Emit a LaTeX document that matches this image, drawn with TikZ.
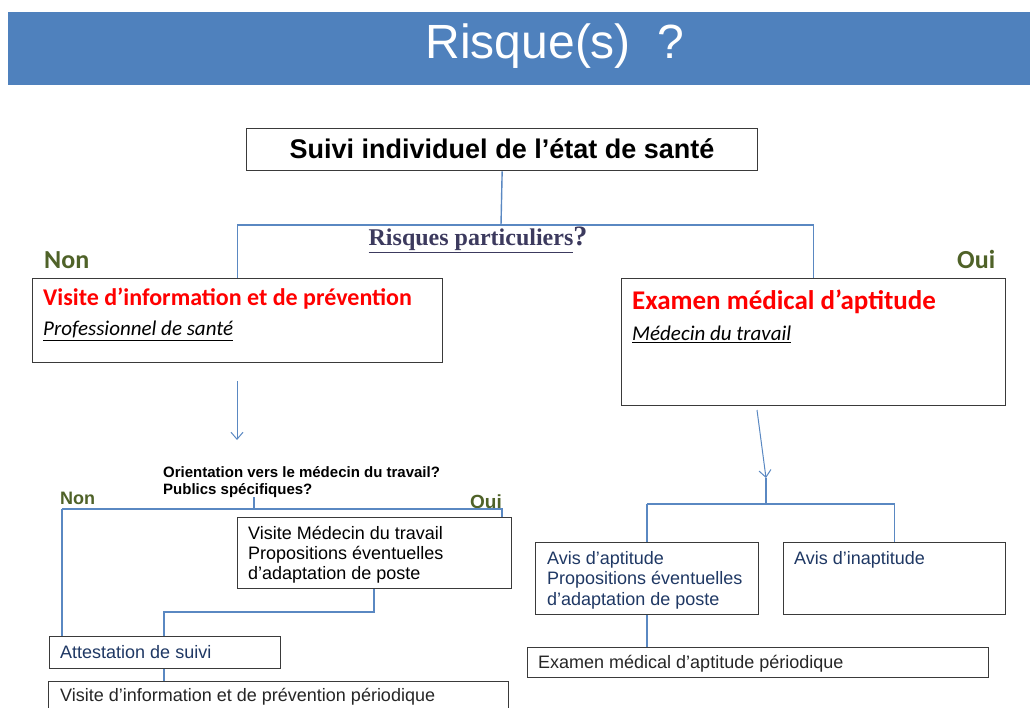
\documentclass[tikz,border=0pt]{standalone}
\usepackage{fontspec}
\setmainfont{Liberation Sans}
\newfontfamily\calib{Carlito}
\newfontfamily\timesf{Liberation Serif}
\usetikzlibrary{arrows.meta}
\definecolor{hdr}{HTML}{4F81BD}
\definecolor{conncol}{HTML}{5A88C2}
\definecolor{olive}{HTML}{4F6228}
\definecolor{navy}{HTML}{1F3864}
\definecolor{rpcol}{HTML}{3C3A5E}
\definecolor{boxcol}{HTML}{3A3A3A}
\newcommand{\fs}[1]{\fontsize{#1}{#1}\selectfont}
\newcommand{\fsl}[2]{\fontsize{#1}{#2}\selectfont}
\tikzset{
  box/.style={draw=boxcol, line width=1.3pt, inner sep=0pt, anchor=north west},
  conn/.style={draw=conncol, line width=1.4pt},
  txt/.style={inner sep=0pt, anchor=base west},
  lines/.style={inner sep=0pt, anchor=base west, align=left},
}
\begin{document}
\begin{tikzpicture}[x=1pt,y=-1pt]
\useasboundingbox (0,0) rectangle (1030,708);
\fill[white] (0,0) rectangle (1030,708);
% header
\fill[hdr] (8,12) rectangle (1030,85);
\node[inner sep=0pt, text=white] (title) at (555,46) {\fs{48}Risque(s)\ \ ?};
% top box
\node[box, minimum width=511pt, minimum height=42pt] (suivi) at (246,128) {};
\node[inner sep=0pt] (suivitxt) at (502,149) {\fs{27}\bfseries Suivi individuel de l’état de santé};
% risques particuliers
\node[inner sep=0pt, text=rpcol] (rp) at (478,240) {\timesf\bfseries\fs{24}\underline{Risques particuliers}{\fs{28}?}};
\node[txt, text=olive] (non1) at (44,269) {\calib\bfseries\fs{26}Non};
\node[txt, text=olive] (oui1) at (957,269) {\calib\bfseries\fs{26}Oui};
% left big box
\node[box, minimum width=410pt, minimum height=84pt] (vip) at (32,278) {};
\node[txt, text=red] (viptxt) at (43,306) {\calib\bfseries\fs{24}Visite d’information et de prévention};
\node[txt] (vipsub) at (43,336) {\calib\itshape\fs{21}\underline{Professionnel de santé}};
% right big box
\node[box, minimum width=384pt, minimum height=127pt] (ema) at (621,278) {};
\node[txt, text=red] (ematxt) at (632,309) {\calib\bfseries\fs{27}Examen médical d’aptitude};
\node[txt] (emasub) at (632,341) {\calib\itshape\fs{21}\underline{Médecin du travail}};
% top connectors
\coordinate (j1) at (501,225);
\draw[conn] (suivi.south) -- (j1);
\draw[conn] (vip.north) -- (vip.north |- j1) -- (ema.north |- j1) -- (ema.north);
% left arrow
\coordinate (la1) at (237,381);
\coordinate (la2) at (237,440);
\draw[conn, line width=1pt, -{Straight Barb[length=7pt,width=12pt]}] (la1) -- (la2);
% right arrow
\coordinate (ra1) at (757,410);
\coordinate (ra2) at (766,478);
\coordinate (j3) at (766,504);
\draw[conn, line width=1pt, -{Straight Barb[length=7pt,width=12pt]}] (ra1) -- (ra2);
\draw[conn] (ra2) -- (j3);
% right lower boxes
\node[box, minimum width=223pt, minimum height=72pt] (avis) at (535,542) {};
\node[lines, text=navy, font=\fsl{18}{20.5}] (avistxt) at (547,605) {Avis d’aptitude\\Propositions éventuelles\\d’adaptation de poste};
\node[box, minimum width=222pt, minimum height=72pt] (inap) at (783,542) {};
\node[txt, text=navy] (inaptxt) at (794,564) {\fs{18}Avis d’inaptitude};
\node[box, minimum width=461pt, minimum height=30pt] (emp) at (527,647) {};
\node[txt, text=black!85] (emptxt) at (538,668) {\fs{18}Examen médical d’aptitude périodique};
\draw[conn] (avis.north |- j3) -- (inap.north |- j3);
\draw[conn] (avis.north |- j3) -- (avis.north);
\draw[conn] (inap.north |- j3) -- (inap.north);
\draw[conn] (emp.north -| avis.south) -- (avis.south);
% left lower part
\node[lines, font=\fsl{15}{17}\bfseries] (orient) at (163,494) {Orientation vers le médecin du travail?\\Publics spécifiques?};
\node[txt, text=olive] (non2) at (60,504) {\fs{18}\bfseries Non};
\node[txt, text=olive] (oui2) at (470,508) {\fs{19}\bfseries Oui};
\node[box, minimum width=274pt, minimum height=71pt] (vmt) at (237,517) {};
\node[lines, font=\fsl{18}{20}] (vmttxt) at (248,579) {Visite Médecin du travail\\Propositions éventuelles\\d’adaptation de poste};
\node[box, minimum width=231pt, minimum height=32pt] (att) at (49,636) {};
\node[txt, text=navy] (atttxt) at (60,658) {\fs{18}Attestation de suivi};
\node[box, minimum width=460pt, minimum height=40pt] (vipp) at (48,681) {};
\node[txt, text=black!85] (vipptxt) at (60,701) {\fs{18}Visite d’information et de prévention périodique};
\coordinate (o1) at (254,497);
\coordinate (j2) at (254,509);
\coordinate (jl) at (62,509);
\coordinate (jr) at (502,509);
\draw[conn] (o1) -- (j2);
\draw[conn] (jl) -- (jr) -- (jr |- vmt.north);
\draw[conn] (jl) -- (jl |- att.north);
\coordinate (k1) at (374,612);
\coordinate (k2) at (164,612);
\draw[conn] (vmt.south -| k1) -- (k1) -- (k2) -- (k2 |- att.north);
\draw[conn] (att.south -| k2) -- (k2 |- vipp.north);
\end{tikzpicture}
\end{document}
